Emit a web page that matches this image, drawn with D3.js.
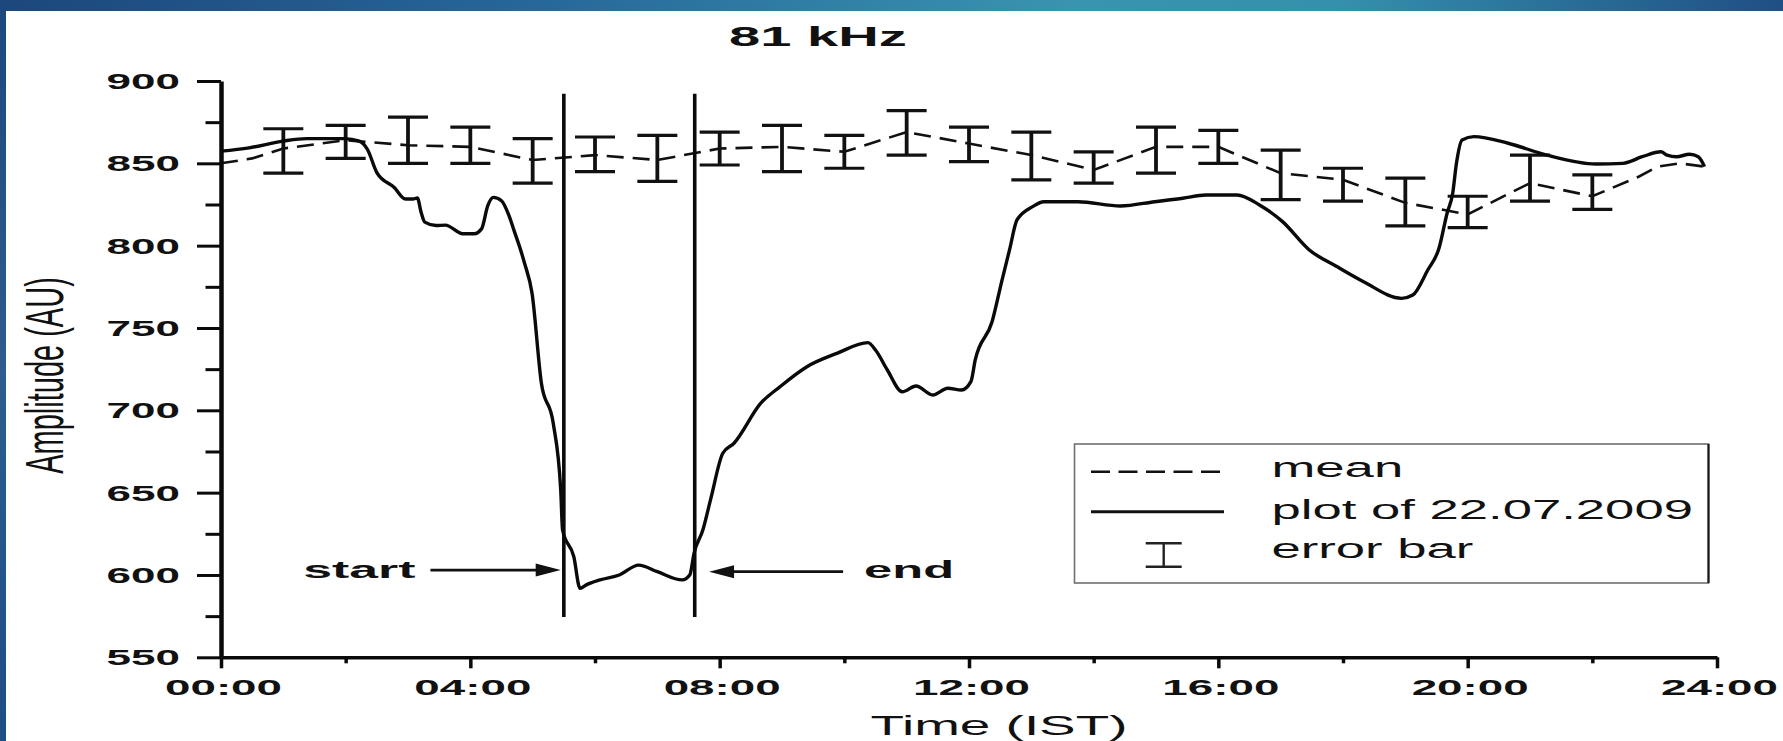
<!DOCTYPE html>
<html>
<head>
<meta charset="utf-8">
<script src="https://cdn.jsdelivr.net/npm/d3@7"></script>
<style>
  html, body { margin: 0; padding: 0; background: #ffffff; }
  svg { display: block; }
  text { font-family: "Liberation Sans", Arial, Helvetica, sans-serif; fill: #111; }
</style>
</head>
<body>
<svg id="chart" width="1783" height="741"></svg>
<script>
// ---------------- data ----------------
const chartTitle = "81 kHz";
const xAxisTitle = "Time (IST)";
const yAxisTitle = "Amplitude (AU)";

const xTickHours  = [0, 4, 8, 12, 16, 20, 24];
const xTickLabels = ["00:00", "04:00", "08:00", "12:00", "16:00", "20:00", "24:00"];
const xMinorHours = [2, 6, 10, 14, 18, 22];
const yTickValues = [550, 600, 650, 700, 750, 800, 850, 900];
const yMinorValues = [575, 625, 675, 725, 775, 825, 875];

const legendLabels = ["mean", "plot of 22.07.2009", "error bar"];

// mean curve (dashed)
const meanHours  = [0, 0.5, 1, 2, 3, 4, 5, 6, 7, 8, 9, 10, 11, 12, 13, 14, 15, 16, 17, 18, 19, 20, 21, 22, 22.75, 23.05, 23.4, 23.8];
const meanValues = [850, 853, 859, 864, 861, 860, 852, 855, 852, 859, 860, 857, 869, 862, 855, 846, 860, 860, 844, 840, 826, 819, 838, 830, 842, 848, 850, 848];

// error bars (hourly)
const errHours = [1, 2, 3, 4, 5, 6, 7, 8, 9, 10, 11, 12, 13, 14, 15, 16, 17, 18, 19, 20, 21, 22];
const errHigh  = [871, 873, 878, 872, 865, 866, 867, 869, 873, 867, 882, 872, 869, 857, 872, 870, 858, 847, 841, 830, 855, 843];
const errLow   = [844, 853, 850, 850, 838, 845, 839, 849, 845, 847, 855, 851, 840, 838, 844, 850, 828, 827, 812, 811, 827, 822];

// amplitude on 22.07.2009 (solid)
const dayHours = [0, 0.45, 1.0, 1.37, 1.98, 2.22, 2.35, 2.5, 2.78, 2.96, 3.08, 3.15, 3.21, 3.27, 3.45, 3.6, 3.88, 4.06, 4.18, 4.28, 4.37, 4.5, 4.62, 4.71, 4.8, 4.87, 4.99, 5.14, 5.33, 5.45, 5.48, 5.66, 5.76, 5.86, 6.08, 6.39, 6.7, 7.0, 7.4, 7.52, 7.59, 7.73, 7.86, 8.05, 8.23, 8.66, 8.97, 9.4, 9.88, 10.38, 10.5, 10.69, 10.93, 11.15, 11.42, 11.66, 11.88, 12.03, 12.1, 12.37, 12.53, 12.65, 12.77, 13.02, 13.2, 13.75, 14.43, 14.98, 15.43, 15.8, 16.3, 16.66, 17.03, 17.46, 17.9, 18.33, 18.94, 19.12, 19.36, 19.54, 19.67, 19.76, 19.82, 19.91, 20.1, 20.65, 21.27, 22.06, 22.49, 22.8, 23.1, 23.2, 23.35, 23.56, 23.7, 23.8];
const dayValues = [857.4, 859.4, 863.5, 865, 865, 863.5, 858.4, 844.4, 835.3, 828.3, 828.3, 829, 820.3, 814.3, 812.2, 812.5, 807.2, 807.2, 810.2, 824.3, 829.3, 827.3, 818.3, 808.2, 798.2, 789.3, 771.1, 716.4, 692.1, 651.6, 627.3, 611.1, 591.9, 594, 597, 600, 606, 602, 597, 600, 613.3, 627.3, 646.7, 673.9, 680, 704.3, 714.4, 726.5, 734.6, 741.1, 736.6, 724.5, 711.3, 714.8, 709.3, 713.4, 712.3, 717.4, 730.6, 753.8, 779.1, 797.4, 815.6, 823.7, 826.7, 826.7, 824.1, 826.7, 828.8, 830.8, 830.8, 824.7, 814.6, 797.4, 787.3, 778.1, 768, 770, 785.2, 798.4, 819.7, 831.8, 850, 864.2, 866.2, 862.2, 855, 849.6, 850, 854, 857, 855, 854, 855.5, 854, 848];

// event markers
const eventLabels = ["start", "end"];
const eventHours  = [5.5, 7.6];

// ---------------- drawing ----------------
const W = 1783, H = 741;
const svg = d3.select("#chart");
const FONT = '"Liberation Sans", Arial, Helvetica, sans-serif';

const defs = svg.append("defs");
const gTop = defs.append("linearGradient").attr("id", "topband").attr("x1", "0").attr("x2", "1").attr("y1", "0").attr("y2", "0");
[["0", "#1c477c"], ["0.3", "#27679a"], ["0.6", "#3994b0"], ["0.75", "#3590ad"], ["1", "#1f4f85"]]
  .forEach(([o, c]) => gTop.append("stop").attr("offset", o).attr("stop-color", c));
const gLeft = defs.append("linearGradient").attr("id", "leftband").attr("x1", "0").attr("x2", "0").attr("y1", "0").attr("y2", "1");
[["0", "#1c487d"], ["0.5", "#2c5d8e"], ["1", "#1d4d85"]]
  .forEach(([o, c]) => gLeft.append("stop").attr("offset", o).attr("stop-color", c));

svg.append("rect").attr("width", W).attr("height", H).attr("fill", "#ffffff");
svg.append("rect").attr("x", 0).attr("y", 0).attr("width", W).attr("height", 11).attr("fill", "url(#topband)");
svg.append("rect").attr("x", 0).attr("y", 0).attr("width", 6).attr("height", H).attr("fill", "url(#leftband)");

const x = d3.scaleLinear().domain([0, 24]).range([221, 1717]);
const y = d3.scaleLinear().domain([550, 900]).range([657.3, 81]);

function stretchText(parent, px, py, str, size, weight, sx, anchor) {
  return parent.append("text")
    .attr("transform", `translate(${px},${py}) scale(${sx},1)`)
    .attr("text-anchor", anchor)
    .style("font-family", FONT)
    .style("font-size", size + "px")
    .style("font-weight", weight)
    .text(str);
}

// mean (dashed)
const meanLine = d3.line().x((d, i) => x(meanHours[i])).y(d => y(d));
svg.append("path")
  .attr("d", meanLine(meanValues))
  .attr("fill", "none").attr("stroke", "#111").attr("stroke-width", 2.6)
  .attr("stroke-dasharray", "17,9");

// error bars
const eb = svg.append("g").attr("stroke", "#111");
errHours.forEach((h, i) => {
  const cx = x(h);
  eb.append("line").attr("x1", cx).attr("x2", cx).attr("y1", y(errLow[i])).attr("y2", y(errHigh[i])).attr("stroke-width", 3.8);
  eb.append("line").attr("x1", cx - 20).attr("x2", cx + 20).attr("y1", y(errHigh[i])).attr("y2", y(errHigh[i])).attr("stroke-width", 3.2);
  eb.append("line").attr("x1", cx - 20).attr("x2", cx + 20).attr("y1", y(errLow[i])).attr("y2", y(errLow[i])).attr("stroke-width", 3.2);
});

// solid day curve
const dayLine = d3.line().x((d, i) => x(dayHours[i])).y(d => y(d)).curve(d3.curveMonotoneX);
svg.append("path")
  .attr("d", dayLine(dayValues))
  .attr("fill", "none").attr("stroke", "#0a0a0a").attr("stroke-width", 3.4)
  .attr("stroke-linejoin", "round");

// event lines
eventHours.forEach(h => {
  svg.append("line").attr("x1", x(h)).attr("x2", x(h))
    .attr("y1", y(892.3)).attr("y2", y(574.5))
    .attr("stroke", "#0a0a0a").attr("stroke-width", 3.6);
});

// arrows and labels
function arrow(fromH, toH, v) {
  const x0 = x(fromH), x1 = x(toH), yy = y(v);
  const dir = Math.sign(x1 - x0);
  svg.append("line").attr("x1", x0).attr("x2", x1 - dir * 18).attr("y1", yy).attr("y2", yy)
    .attr("stroke", "#111").attr("stroke-width", 2.8);
  svg.append("path")
    .attr("d", `M${x1},${yy} L${x1 - dir * 25},${yy - 6.5} L${x1 - dir * 25},${yy + 6.5} Z`)
    .attr("fill", "#111");
}
arrow(3.36, eventHours[0] - 0.05, 603);
arrow(9.98, eventHours[1] + 0.23, 602);
stretchText(svg, x(3.36) - 15, y(598), eventLabels[0], 23, "bold", 2.25, "end");
stretchText(svg, x(9.98) + 21, y(598), eventLabels[1], 23, "bold", 2.2, "start");

// axes
const yAxis = svg.append("g").attr("transform", `translate(${x(0)},0)`)
  .call(d3.axisLeft(y).tickValues(yTickValues).tickSize(24).tickSizeOuter(0).tickFormat(d3.format("d")));
yAxis.select(".domain").attr("stroke", "#0a0a0a").attr("stroke-width", 4.5);
yAxis.selectAll(".tick line").attr("stroke", "#0a0a0a").attr("stroke-width", 3);
yAxis.selectAll(".tick text")
  .attr("x", -41 / 2.0).attr("dy", "0.34em")
  .attr("transform", "scale(2.0,1)")
  .style("font-family", FONT).style("font-size", "22px").style("font-weight", "bold").attr("fill", "#111");

const yMinor = svg.append("g").attr("transform", `translate(${x(0)},0)`)
  .call(d3.axisLeft(y).tickValues(yMinorValues).tickSize(15.5).tickSizeOuter(0).tickFormat(""));
yMinor.select(".domain").remove();
yMinor.selectAll(".tick line").attr("stroke", "#0a0a0a").attr("stroke-width", 3);

const xAxis = svg.append("g").attr("transform", `translate(0,${y(550)})`)
  .call(d3.axisBottom(x).tickValues(xTickHours).tickSize(11).tickSizeOuter(0).tickFormat((d, i) => xTickLabels[i]));
xAxis.select(".domain").attr("stroke", "#0a0a0a").attr("stroke-width", 3.6);
xAxis.selectAll(".tick line").attr("stroke", "#0a0a0a").attr("stroke-width", 3.5);
xAxis.selectAll(".tick text")
  .attr("y", 37.7).attr("dy", 0).attr("x", 2 / 2.08)
  .attr("transform", "scale(2.08,1)")
  .style("font-family", FONT).style("font-size", "22px").style("font-weight", "bold").attr("fill", "#111");

const xMinor = svg.append("g").attr("transform", `translate(0,${y(550)})`)
  .call(d3.axisBottom(x).tickValues(xMinorHours).tickSize(6).tickSizeOuter(0).tickFormat(""));
xMinor.select(".domain").remove();
xMinor.selectAll(".tick line").attr("stroke", "#0a0a0a").attr("stroke-width", 3.5);

// titles
stretchText(svg, 818, 46, chartTitle, 27, "bold", 2.08, "middle");
stretchText(svg, 999, 735, xAxisTitle, 28, "normal", 1.96, "middle");
svg.append("text")
  .attr("transform", `translate(63,375.5) scale(1.84,1) rotate(-90)`)
  .attr("text-anchor", "middle")
  .style("font-family", FONT).style("font-size", "29px").style("font-weight", "normal")
  .text(yAxisTitle);

// legend
const lg = svg.append("g");
lg.append("rect").attr("x", 1074.5).attr("y", 444).attr("width", 634).attr("height", 139)
  .attr("fill", "#fff").attr("stroke", "#707070").attr("stroke-width", 1.6);
lg.append("line").attr("x1", 1708.5).attr("x2", 1708.5).attr("y1", 444).attr("y2", 583)
  .attr("stroke", "#1a1a1a").attr("stroke-width", 2.2);
lg.append("line").attr("x1", 1091).attr("x2", 1224).attr("y1", 471.7).attr("y2", 471.7)
  .attr("stroke", "#111").attr("stroke-width", 2.4).attr("stroke-dasharray", "19,8.5");
lg.append("line").attr("x1", 1091).attr("x2", 1224).attr("y1", 511.7).attr("y2", 511.7)
  .attr("stroke", "#111").attr("stroke-width", 3);
lg.append("line").attr("x1", 1163.7).attr("x2", 1163.7).attr("y1", 543.3).attr("y2", 566.7)
  .attr("stroke", "#222").attr("stroke-width", 2.4);
[543.3, 566.7].forEach(v => lg.append("line").attr("x1", 1145.7).attr("x2", 1181.7).attr("y1", v).attr("y2", v)
  .attr("stroke", "#222").attr("stroke-width", 2.6));
[476.7, 519.3, 558.3].forEach((b, i) => stretchText(lg, 1271.5, b, legendLabels[i], 28, "normal", 1.88, "start"));
</script>
</body>
</html>
